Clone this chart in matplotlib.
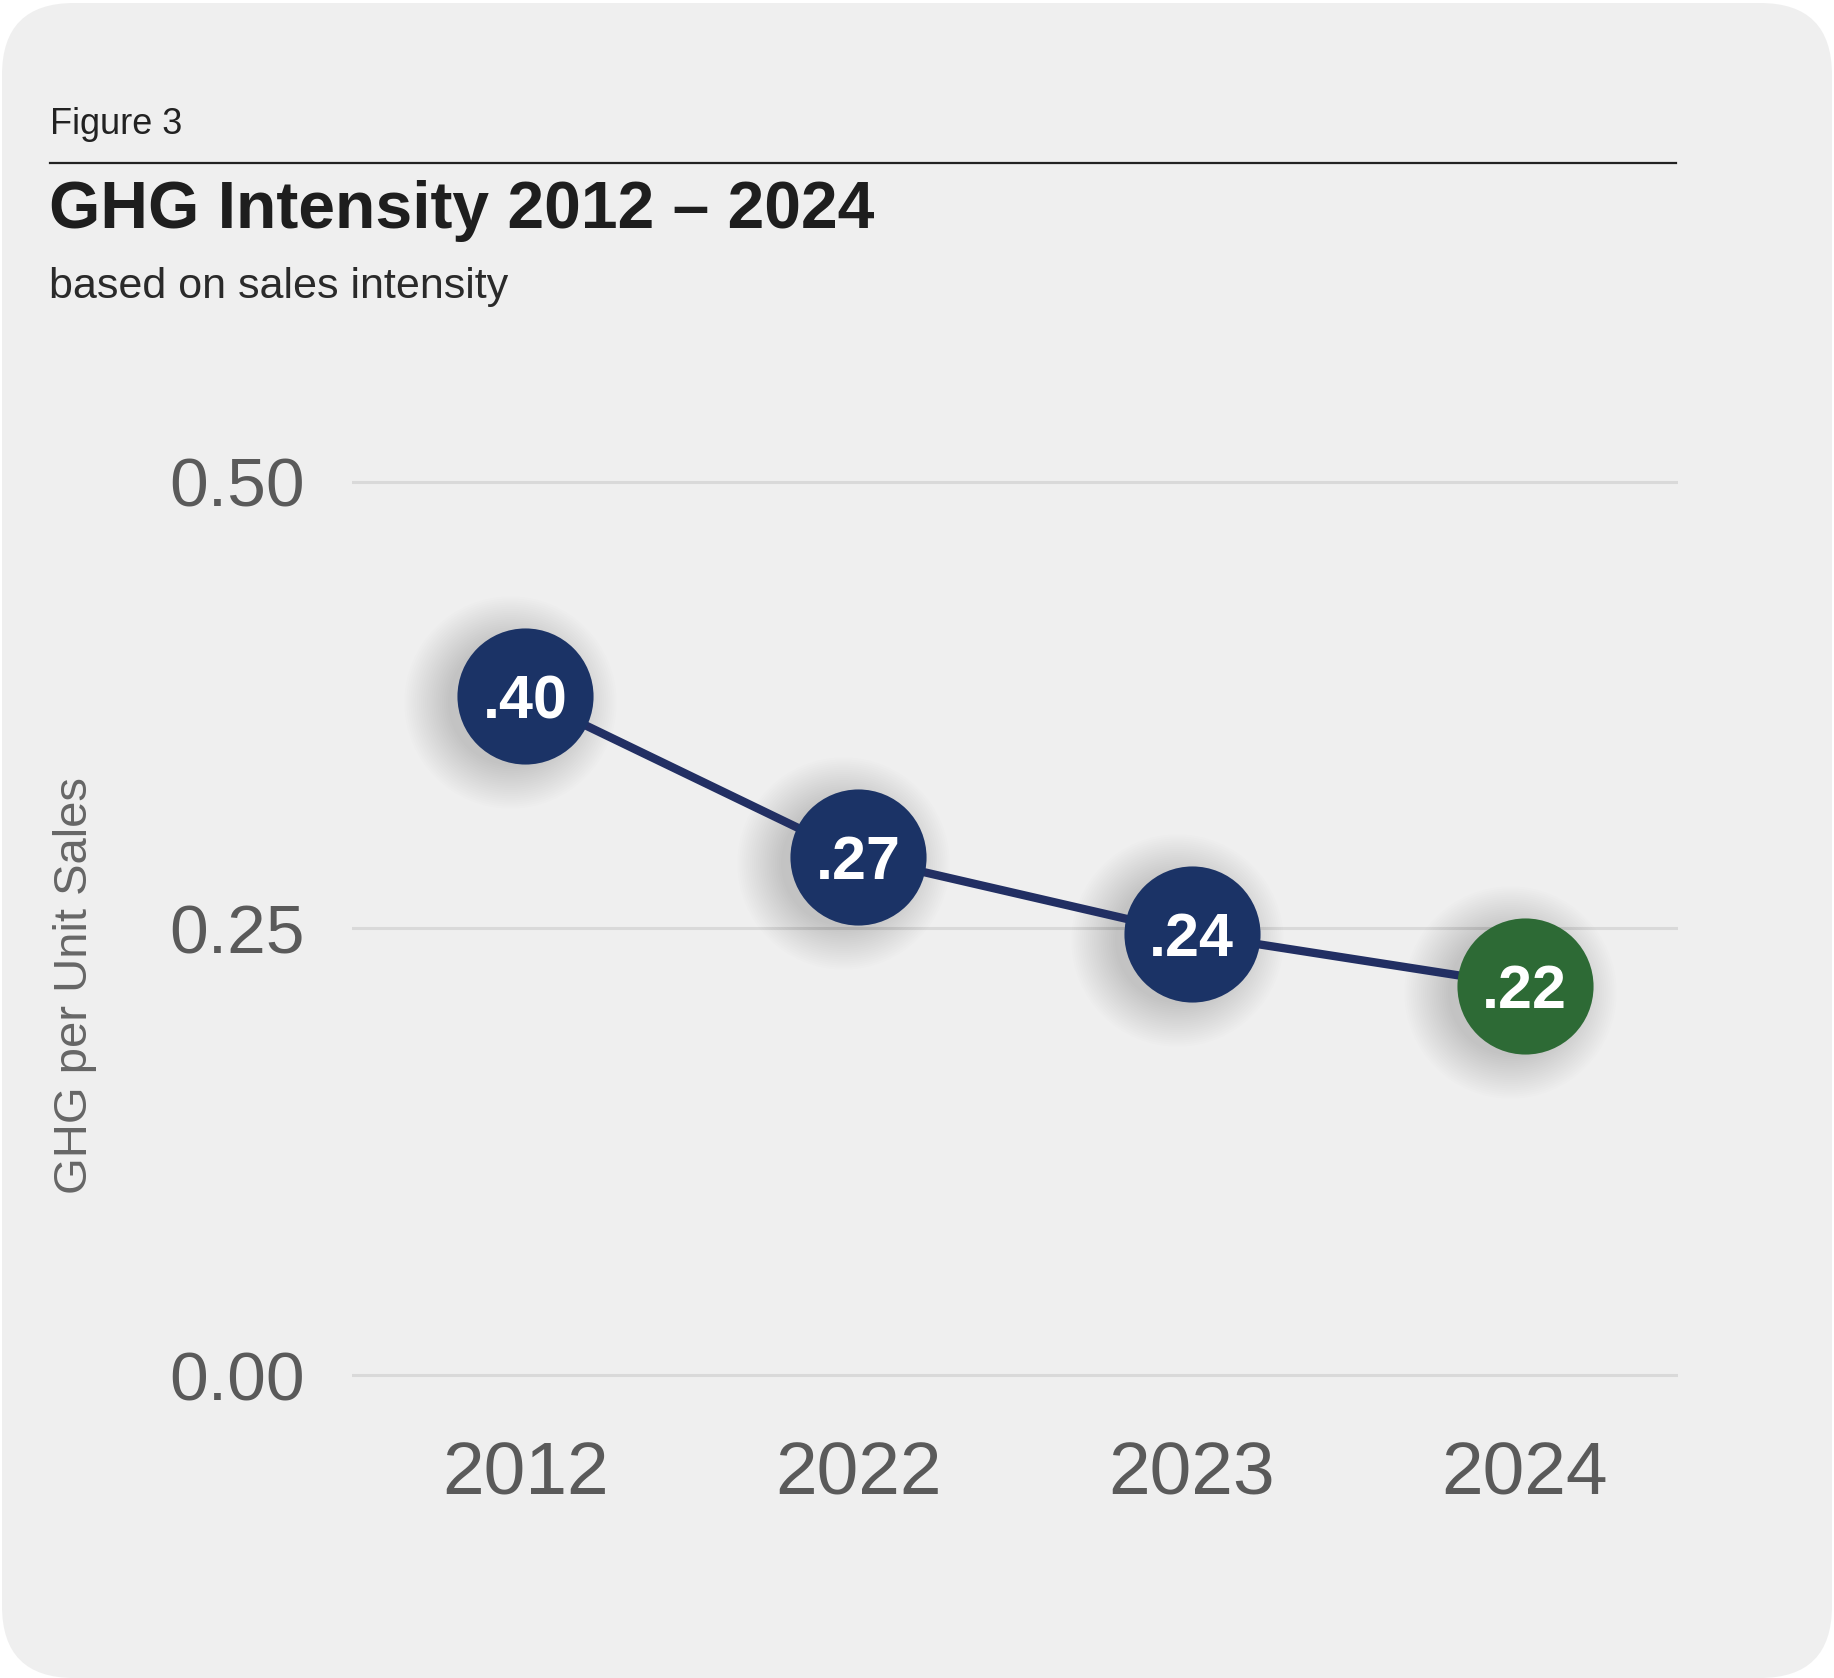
import matplotlib
matplotlib.use("Agg")
import matplotlib.pyplot as plt
from matplotlib.patches import FancyBboxPatch
from matplotlib.transforms import offset_copy, IdentityTransform
from matplotlib.lines import Line2D

# data (marker heights as drawn, labels as printed)
years = ["2012", "2022", "2023", "2024"]
values = [0.38, 0.29, 0.247, 0.218]
value_labels = [".40", ".27", ".24", ".22"]
point_colors = ["#1b3366", "#1b3366", "#1b3366", "#2d6a35"]
y_ticks = [0.0, 0.25, 0.50]
y_tick_labels = ["0.00", "0.25", "0.50"]

W, H = 1834, 1678
DPI = 100
plt.rcParams['font.family'] = ['Liberation Sans', 'DejaVu Sans']

fig = plt.figure(figsize=(W / DPI, H / DPI), dpi=DPI)
fig.patch.set_facecolor("white")

# rounded grey card behind everything
card = FancyBboxPatch((2, 0), W - 4, H - 3, boxstyle="round,pad=0,rounding_size=72",
                      transform=IdentityTransform(), facecolor="#efefef",
                      edgecolor="none", zorder=-10)
fig.patches.append(card)


def fx(px):
    return px / W


def fy(py):
    return 1 - py / H


# header
fig.text(fx(50), fy(134), "Figure 3", fontsize=26, color="#222222", va="baseline")
fig.add_artist(Line2D([fx(50), fx(1676)], [fy(163), fy(163)], color="#222222", lw=1.6))
fig.text(fx(49), fy(228), "GHG Intensity 2012 \u2013 2024", fontsize=47.5, fontweight="bold",
         color="#1e1e1e", va="baseline")
fig.text(fx(49), fy(298), "based on sales intensity", fontsize=31, color="#2a2a2a", va="baseline")

# axes placement: y 0 -> 1375 px, 0.5 -> 482 px ; ylim padded by 0.01
ax = fig.add_axes([fx(352), 1 - 1393 / H, fx(1678) - fx(352), (1393 - 464) / H])
ax.set_facecolor("none")
ax.set_ylim(-0.01, 0.51)
ax.set_xlim(-0.52, 3.46)
for s in ax.spines.values():
    s.set_visible(False)

ax.set_yticks(y_ticks)
ax.set_yticklabels(y_tick_labels)
ax.set_xticks(range(len(years)))
ax.set_xticklabels(years)
ax.tick_params(axis="y", length=0, pad=34, labelsize=50, labelcolor="#5a5a5a")
ax.tick_params(axis="x", length=0, pad=34, labelsize=54, labelcolor="#5a5a5a")
ax.grid(axis="y", color="#d9d9d9", lw=2.2)
ax.set_axisbelow(True)

xs = list(range(len(years)))

# soft drop shadow under the circles
shadow_tr = offset_copy(ax.transData, fig=fig, x=-15, y=-6, units="dots")
for k in range(22):
    ax.plot(xs, values, linestyle="none", marker="o", markersize=90 + k * 3.0,
            color="black", alpha=0.006, markeredgewidth=0, transform=shadow_tr, zorder=1)

ax.plot(xs, values, color="#222f63", lw=6, zorder=2, solid_capstyle="round")
for x, v, c, lab in zip(xs, values, point_colors, value_labels):
    ax.plot([x], [v], linestyle="none", marker="o", markersize=98, color=c,
            markeredgewidth=0, zorder=3, clip_on=False)
    ax.annotate(lab, (x, v), xytext=(0, -16), textcoords="offset points", ha="center",
                va="baseline", fontsize=44, fontweight="bold", color="white", zorder=4)

fig.text(fx(75), fy(985), "GHG per Unit Sales", rotation=90, fontsize=34,
         color="#666666", ha="center", va="center")

fig.savefig("out.png", dpi=DPI, facecolor=fig.get_facecolor())
